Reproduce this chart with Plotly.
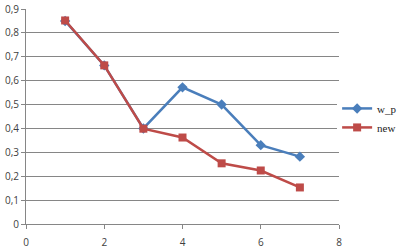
import plotly.graph_objects as go

x_vals = [1, 2, 3, 4, 5, 6, 7]
w_p = [0.85, 0.664, 0.40, 0.572, 0.50, 0.33, 0.282]
new = [0.852, 0.664, 0.399, 0.362, 0.254, 0.224, 0.153]

fig = go.Figure()
fig.add_trace(go.Scatter(x=x_vals, y=w_p, name="w_p", mode="lines+markers",
                         line=dict(color="#4A7EBB", width=2.5),
                         marker=dict(symbol="diamond", size=8, color="#4A7EBB")))
fig.add_trace(go.Scatter(x=x_vals, y=new, name="new", mode="lines+markers",
                         line=dict(color="#BE4B48", width=2.5),
                         marker=dict(symbol="square", size=8, color="#BE4B48")))

fig.update_layout(
    width=416, height=252,
    margin=dict(l=26, r=77, t=9, b=28),
    paper_bgcolor="white", plot_bgcolor="white",
    separators=",.",
    font=dict(family="Open Sans, sans-serif", size=10, color="#404040"),
    legend=dict(x=0.994, y=0.605, xanchor="left", yanchor="top",
                font=dict(family="Liberation Serif, serif", size=11, color="#222"),
                tracegroupgap=0, itemwidth=30),
    xaxis=dict(range=[0, 8], dtick=2, showgrid=False, showline=True,
               linecolor="#868686", linewidth=1, ticks="outside", ticklen=4,
               tickcolor="#868686", zeroline=False, automargin=False,
               ticklabelstandoff=5),
    yaxis=dict(range=[0, 0.9], dtick=0.1, showgrid=True, gridcolor="#868686",
               gridwidth=1, showline=True, linecolor="#868686", linewidth=1,
               ticks="outside", ticklen=4, tickcolor="#868686", zeroline=False,
               automargin=False),
)
fig.write_html("out.html")
